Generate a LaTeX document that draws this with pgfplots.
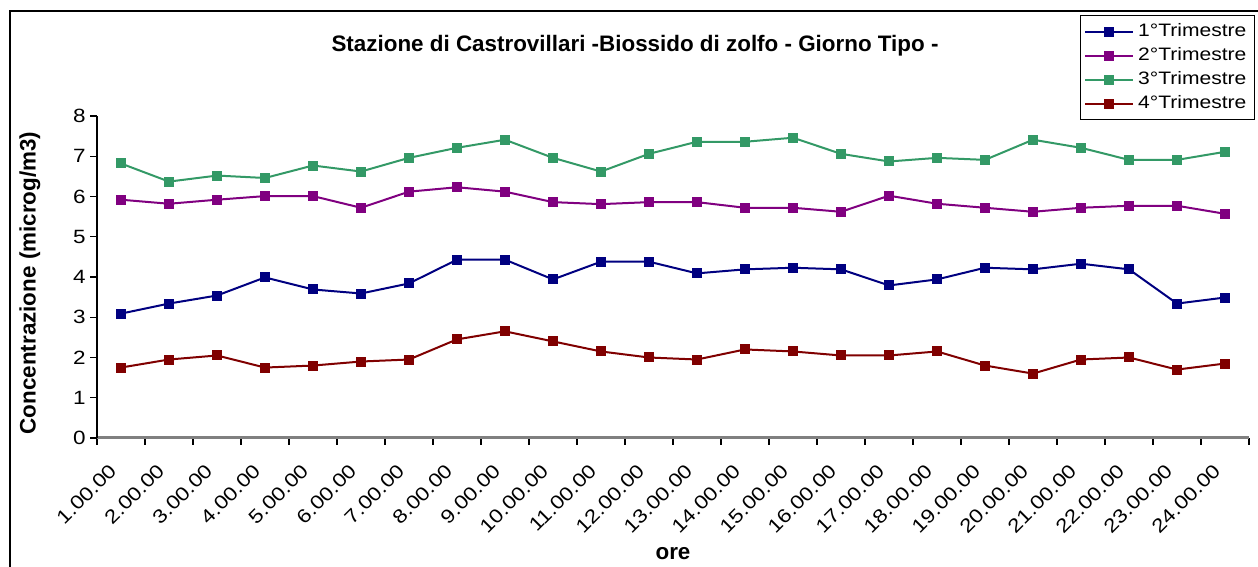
\documentclass[border=0pt]{standalone}
\usepackage{fontspec}
\setmainfont{Liberation Sans}
\newfontfamily\widesans{Liberation Sans}[FakeStretch=1.17]
\usepackage{pgfplots}
\pgfplotsset{compat=1.18}
\definecolor{tri1}{HTML}{000080}
\definecolor{tri2}{HTML}{800080}
\definecolor{tri3}{HTML}{339966}
\definecolor{tri4}{HTML}{800000}
\pgfplotstableread{
h  t1   t2   t3   t4
1  3.09 5.92 6.82 1.75
2  3.34 5.82 6.37 1.95
3  3.54 5.92 6.52 2.05
4  3.99 6.01 6.46 1.75
5  3.69 6.01 6.77 1.80
6  3.59 5.72 6.62 1.90
7  3.84 6.12 6.96 1.95
8  4.43 6.23 7.21 2.45
9  4.43 6.12 7.41 2.65
10 3.94 5.86 6.96 2.40
11 4.38 5.81 6.62 2.15
12 4.38 5.86 7.06 2.00
13 4.09 5.86 7.36 1.95
14 4.19 5.72 7.36 2.20
15 4.23 5.72 7.46 2.15
16 4.19 5.62 7.06 2.05
17 3.79 6.02 6.87 2.05
18 3.94 5.82 6.96 2.15
19 4.23 5.72 6.91 1.80
20 4.19 5.62 7.41 1.60
21 4.33 5.72 7.21 1.95
22 4.19 5.77 6.91 2.00
23 3.34 5.77 6.91 1.70
24 3.49 5.57 7.11 1.85
}\datatable
\begin{document}
\begin{tikzpicture}
\path[use as bounding box] (0,0) rectangle (629pt,283.5pt);
\draw[black, line width=0.6pt] (5pt,0) -- (5pt,278pt) -- (629pt,278pt);
\begin{axis}[
  at={(48.5pt,64.5pt)}, anchor=south west,
  scale only axis, width=576pt, height=161pt,
  xmin=0.5, xmax=24.5, ymin=0, ymax=8,
  xtick={1,...,24},
  xticklabels={1.00.00,2.00.00,3.00.00,4.00.00,5.00.00,6.00.00,7.00.00,8.00.00,9.00.00,10.00.00,11.00.00,12.00.00,13.00.00,14.00.00,15.00.00,16.00.00,17.00.00,18.00.00,19.00.00,20.00.00,21.00.00,22.00.00,23.00.00,24.00.00},
  minor xtick={0.5,1.5,...,24.5},
  ytick={0,1,...,8},
  major x tick style={draw=none},
  tick align=outside,
  major tick length=3.5pt, minor tick length=3.5pt,
  tick style={black, line width=0.6pt},
  axis x line*=bottom, axis y line*=left,
  x axis line style={-, draw=gray, line width=1.5pt},
  y axis line style={-, draw=black, line width=0.6pt},
  ticklabel style={font=\widesans\fontsize{9.6}{12}\selectfont},
  /pgf/number format/assume math mode=true,
  xticklabel style={xshift=-6.5pt, yshift=-8.6pt, rotate=45, anchor=north east, inner sep=0pt},
  yticklabel style={inner sep=2pt},
  legend style={at={(1.0052,1.3137)}, anchor=north east, draw=black, line width=0.6pt,
    font=\widesans\fontsize{9}{10.5}\selectfont, row sep=0pt, inner sep=2pt,
    cells={anchor=west}},
  legend image code/.code={
    \draw[mark repeat=2, mark phase=2, #1] plot coordinates {(0cm,0cm) (0.42cm,0cm) (0.84cm,0cm)};},
  every axis plot/.append style={line width=1pt, mark=square*, mark size=2pt},
]
\addplot[tri1, mark options={fill=tri1}] table[x=h, y=t1] {\datatable};
\addlegendentry{1°Trimestre}
\addplot[tri2, mark options={fill=tri2}] table[x=h, y=t2] {\datatable};
\addlegendentry{2°Trimestre}
\addplot[tri3, mark options={fill=tri3}] table[x=h, y=t3] {\datatable};
\addlegendentry{3°Trimestre}
\addplot[tri4, mark options={fill=tri4}] table[x=h, y=t4] {\datatable};
\addlegendentry{4°Trimestre}
\end{axis}
\node[font=\bfseries\fontsize{11.2}{13}\selectfont] at (317.5pt,260.5pt) {Stazione di Castrovillari -Biossido di zolfo - Giorno Tipo -};
\node[font=\bfseries\fontsize{11.2}{13}\selectfont, rotate=90] at (15pt,142pt) {Concentrazione (microg/m3)};
\node[font=\bfseries\fontsize{11.2}{13}\selectfont] at (336.5pt,6.5pt) {ore};
\end{tikzpicture}
\end{document}
